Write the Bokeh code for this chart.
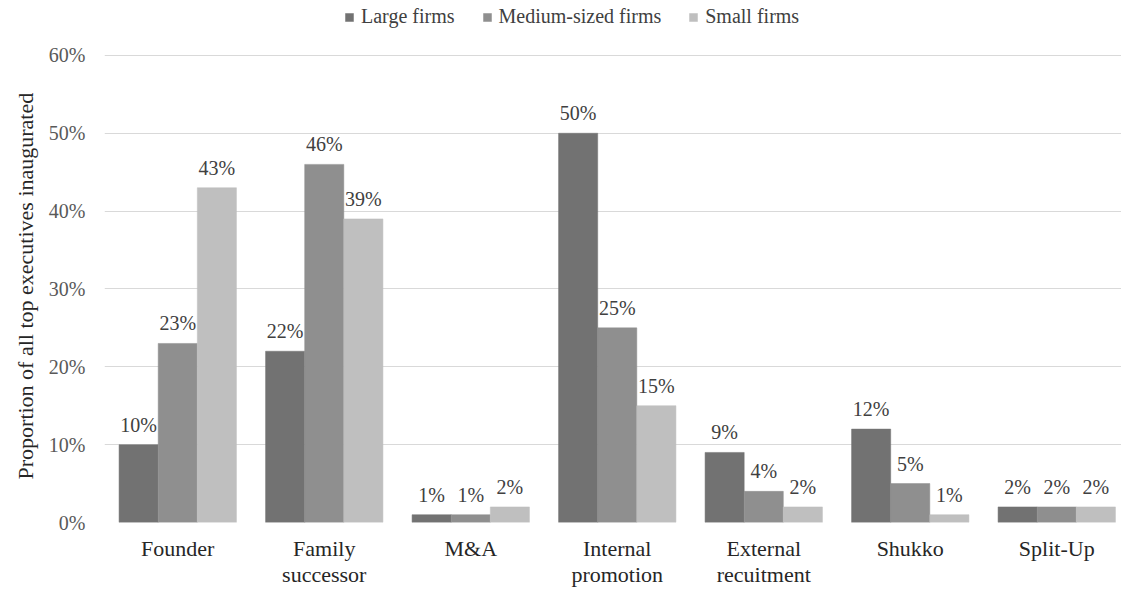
from bokeh.plotting import figure
from bokeh.models import (ColumnDataSource, Range1d, FixedTicker, NumeralTickFormatter,
                          Legend, LegendItem, LabelSet, Title)
from bokeh.transform import dodge
from bokeh.embed import file_html
from bokeh.resources import INLINE

categories = ["Founder", "Family\nsuccessor", "M&A", "Internal\npromotion",
              "External\nrecuitment", "Shukko", "Split-Up"]
series_names = ["Large firms", "Medium-sized firms", "Small firms"]
large = [0.10, 0.22, 0.01, 0.50, 0.09, 0.12, 0.02]
medium = [0.23, 0.46, 0.01, 0.25, 0.04, 0.05, 0.02]
small = [0.43, 0.39, 0.02, 0.15, 0.02, 0.01, 0.02]
y_ticks = [0.0, 0.1, 0.2, 0.3, 0.4, 0.5, 0.6]
y_title = "Proportion of all top executives inaugurated"

colors = ["#727272", "#8f8f8f", "#bfbfbf"]
FONT = "Liberation Serif"

idx = list(range(len(categories)))
src = ColumnDataSource(dict(
    x=idx, large=large, medium=medium, small=small,
    large_lbl=[f"{round(v*100)}%" for v in large],
    medium_lbl=[f"{round(v*100)}%" for v in medium],
    small_lbl=[f"{round(v*100)}%" for v in small],
))

# frame spans the full height above the axis so the legend fits inside it
p = figure(width=1121, height=589, output_backend="svg", toolbar_location=None,
           x_range=Range1d(-0.5, -0.5 + 1017 / 146.5),
           y_range=Range1d(0, 0.6 + 55 / 780.0),
           min_border_left=104, min_border_right=0, min_border_top=0, min_border_bottom=66)
p.outline_line_color = None
p.background_fill_color = "white"
p.border_fill_color = "white"

bw = 0.267
offsets = [-bw, 0.0, bw]
cols = ["large", "medium", "small"]
renderers = []
for col, off, c in zip(cols, offsets, colors):
    r = p.vbar(x=dodge("x", off, range=p.x_range), top=col, width=bw, bottom=0,
               source=src, fill_color=c, line_color=c, line_width=0.5)
    renderers.append(r)
    lbl = LabelSet(x=dodge("x", off, range=p.x_range), y=col, text=col + "_lbl", source=src,
                   text_align="center", text_baseline="bottom", y_offset=9,
                   text_font=FONT, text_font_size="20px", text_color="#404040")
    p.add_layout(lbl)

p.xaxis.ticker = FixedTicker(ticks=idx)
p.xaxis.major_label_overrides = {i: c for i, c in enumerate(categories)}
p.xaxis.major_label_text_font = FONT
p.xaxis.major_label_text_font_size = "22px"
p.xaxis.major_label_text_color = "#262626"
p.xaxis.major_label_text_line_height = 1.05
p.xaxis.major_label_standoff = 13
p.xaxis.major_tick_out = 0
p.xaxis.major_tick_in = 0
p.xaxis.axis_line_color = None
p.xaxis.major_tick_line_color = None
p.xaxis.minor_tick_line_color = None

p.yaxis.ticker = FixedTicker(ticks=y_ticks)
p.yaxis.formatter = NumeralTickFormatter(format="0%")
p.yaxis.major_label_text_font = FONT
p.yaxis.major_label_text_font_size = "20px"
p.yaxis.major_label_text_color = "#595959"
p.yaxis.major_label_standoff = 19
p.yaxis.major_tick_out = 0
p.yaxis.major_tick_in = 0
p.yaxis.axis_line_color = None
p.yaxis.major_tick_line_color = None
p.yaxis.minor_tick_line_color = None

# y-axis title, centred on the 0-60% span rather than the whole frame
ytitle = Title(text=y_title, align="left", offset=43, standoff=16,
               text_font=FONT, text_font_size="22px", text_font_style="normal",
               text_color="#262626")
p.add_layout(ytitle, "left")

p.xgrid.grid_line_color = None
p.ygrid.grid_line_color = "#d9d9d9"
p.ygrid.grid_line_width = 1

legend = Legend(items=[LegendItem(label=n, renderers=[r]) for n, r in zip(series_names, renderers)],
                orientation="horizontal", location=(240, 494),
                label_text_font=FONT, label_text_font_size="20px", label_text_color="#404040",
                glyph_width=10, glyph_height=10, label_standoff=7, spacing=27,
                padding=2, margin=0, border_line_color=None, background_fill_alpha=0)
p.add_layout(legend, "center")

open("out.html", "w").write(file_html(p, INLINE))
